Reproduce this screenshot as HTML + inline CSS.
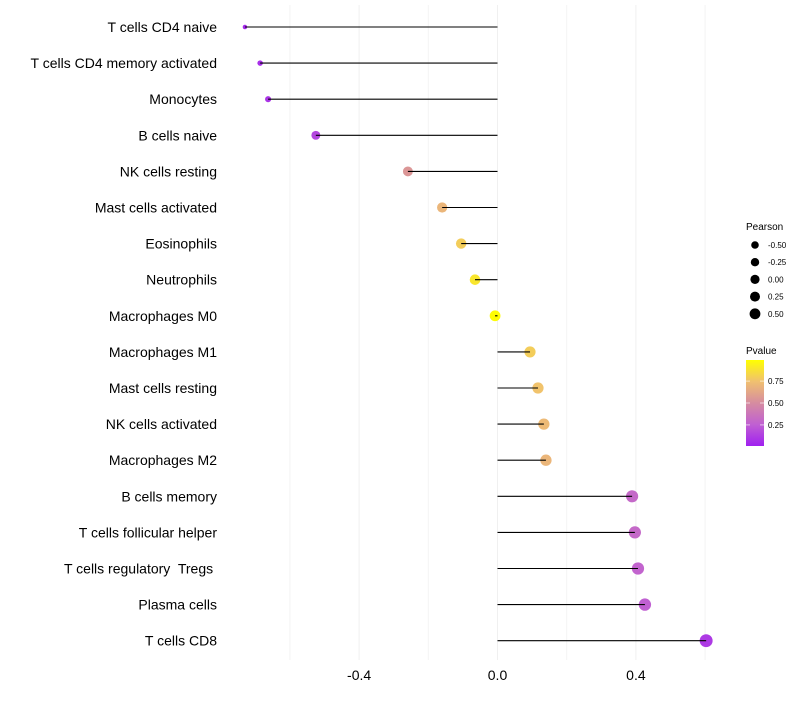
<!DOCTYPE html>
<html><head><meta charset="utf-8"><style>
body{margin:0;background:#fff;font-family:"Liberation Sans",sans-serif}
text{white-space:pre}
</style></head><body>
<svg id="c" width="800" height="700" xmlns="http://www.w3.org/2000/svg" font-family="Liberation Sans, sans-serif"></svg>
<script>
const categories=["T cells CD4 naive","T cells CD4 memory activated","Monocytes","B cells naive","NK cells resting","Mast cells activated","Eosinophils","Neutrophils","Macrophages M0","Macrophages M1","Mast cells resting","NK cells activated","Macrophages M2","B cells memory","T cells follicular helper","T cells regulatory  Tregs ","Plasma cells","T cells CD8"];
const pearson=[-0.73,-0.686,-0.663,-0.525,-0.259,-0.16,-0.105,-0.065,-0.007,0.094,0.117,0.134,0.14,0.389,0.397,0.406,0.426,0.603];
const pvalue=[0.04,0.06,0.08,0.15,0.55,0.7,0.8,0.9,0.99,0.8,0.76,0.72,0.7,0.3,0.3,0.27,0.25,0.1];
const xTicks=[-0.4,0.0,0.4];
const xMinor=[-0.6,-0.2,0.2,0.6];
const sizeLegend=[-0.5,-0.25,0,0.25,0.5];
const colorLegend=[0.25,0.5,0.75];

const svg=document.getElementById('c');const NS='http://www.w3.org/2000/svg';
function mk(t,a,p){const e=document.createElementNS(NS,t);for(const k in a)e.setAttribute(k,a[k]);(p||svg).appendChild(e);return e;}
const xs=v=>497.5+v*346;
const ys=i=>27+i*36.1;
function rs(v){ if(v>=-0.55) return 5.4+1.8*v; return Math.max(1.5,4.4+12*(v+0.55)); }
const stops=[[0,[160,32,240]],[0.25,[192,96,210]],[0.5,[214,140,160]],[0.75,[240,192,112]],[1,[255,255,0]]];
function col(p){for(let i=1;i<stops.length;i++){if(p<=stops[i][0]){const a=stops[i-1],b=stops[i],t=(p-a[0])/(b[0]-a[0]);return 'rgb('+a[1].map((c,k)=>Math.round(c+(b[1][k]-c)*t)).join(',')+')';}}return 'rgb(255,255,0)';}
xMinor.concat(xTicks).forEach(v=>{const l=mk('line',{x1:xs(v),x2:xs(v),y1:5,y2:660,stroke:xTicks.includes(v)?'#f0f0f0':'#f4f4f4','stroke-width':1});

});
xTicks.forEach(v=>{const t=mk('text',{x:xs(v),y:680,'text-anchor':'middle','font-size':14,fill:'#000'});t.textContent=v.toFixed(1);

});
categories.forEach((c,i)=>{const y=ys(i);
const t=mk('text',{x:217,y:y+5,'text-anchor':'end','font-size':14,fill:'#000'});t.textContent=c;


const d=mk('circle',{cx:xs(pearson[i]),cy:y,r:rs(pearson[i]),fill:col(pvalue[i])});


const l=mk('line',{x1:xs(0),x2:xs(pearson[i]),y1:y,y2:y,stroke:'#000','stroke-width':1.1});


});
const lt=mk('text',{x:746,y:230,'font-size':10});lt.textContent='Pearson';


sizeLegend.forEach((v,i)=>{const y=245+i*17.2;
const d=mk('circle',{cx:755,cy:y,r:3.8+1.6*(v+0.5),fill:'#000'});


const t=mk('text',{x:768,y:y+3,'font-size':8});t.textContent=v.toFixed(2);

});
const ct=mk('text',{x:746,y:354,'font-size':10});ct.textContent='Pvalue';


const defs=mk('defs',{});const g=mk('linearGradient',{id:'pg',x1:0,y1:1,x2:0,y2:0},defs);
stops.forEach(s=>mk('stop',{offset:s[0],'stop-color':col(s[0])},g));
const bar=mk('rect',{x:746,y:360,width:18,height:86,fill:'url(#pg)'});


colorLegend.forEach(v=>{const y=446-(v-0.01)/0.98*86;
mk('line',{x1:746,x2:750,y1:y,y2:y,stroke:'#fff','stroke-width':0.6});mk('line',{x1:760,x2:764,y1:y,y2:y,stroke:'#fff','stroke-width':0.6});
const t=mk('text',{x:768,y:y+3,'font-size':8});t.textContent=v.toFixed(2);

});
</script>
</body></html>
